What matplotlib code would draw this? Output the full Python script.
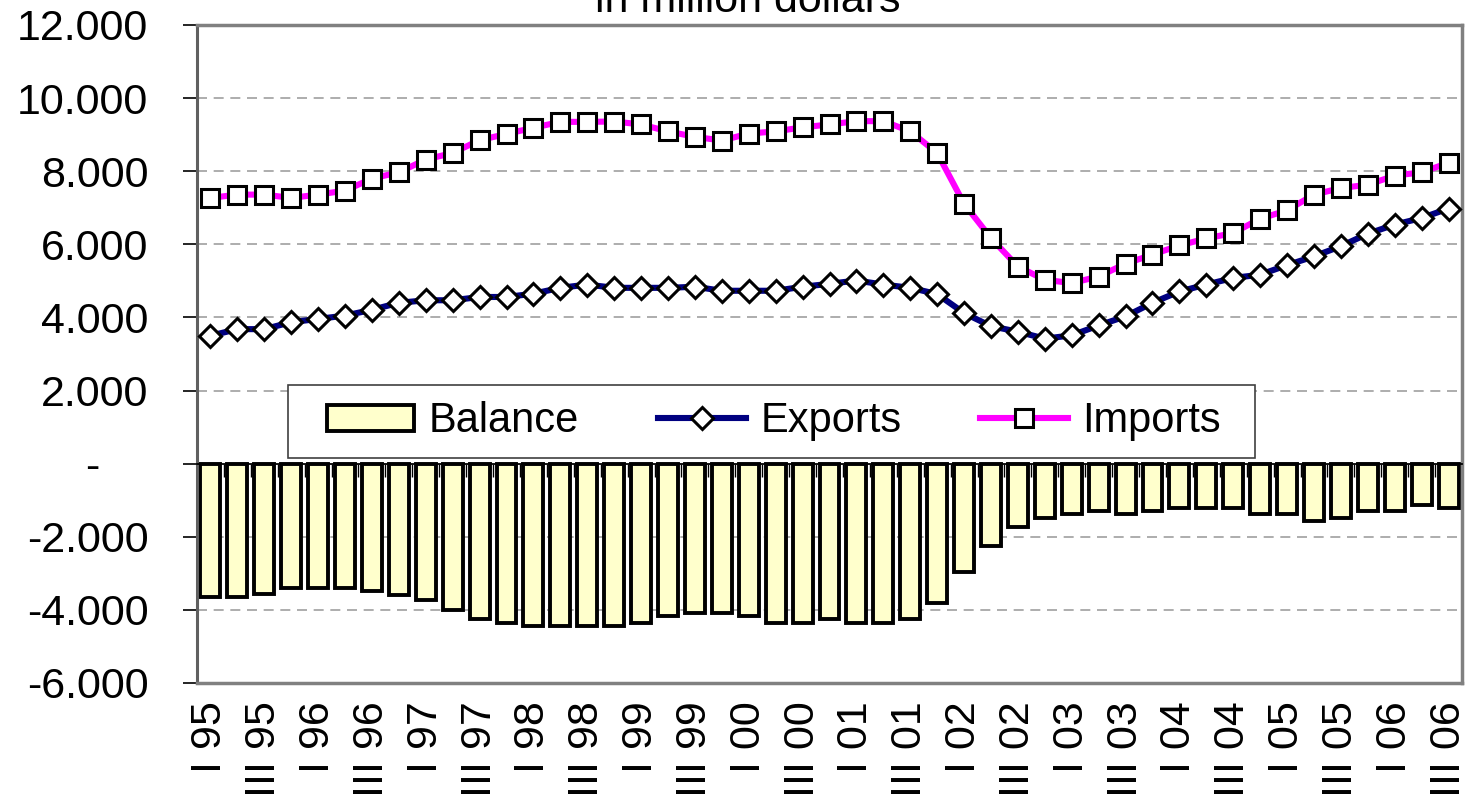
import matplotlib.pyplot as plt
from matplotlib.ticker import FuncFormatter
from matplotlib.patches import Rectangle
import numpy as np

plt.rcParams['font.family'] = ['Liberation Sans', 'DejaVu Sans']

# quarterly trade, I 95 .. III 06, in million dollars
imports = [7270, 7360, 7360, 7270, 7360, 7470, 7800, 7970, 8320, 8500,
           8850, 9020, 9190, 9350, 9350, 9360, 9280, 9090, 8940, 8840,
           9030, 9090, 9200, 9280, 9370, 9370, 9090, 8500, 7110, 6170,
           5390, 5030, 4940, 5120, 5470, 5720, 5970, 6160, 6310, 6700,
           6930, 7360, 7540, 7630, 7880, 7970, 8230]
exports = [3500, 3680, 3680, 3870, 3960, 4050, 4210, 4400, 4470, 4470,
           4560, 4560, 4650, 4810, 4900, 4810, 4810, 4810, 4840, 4730,
           4730, 4730, 4840, 4920, 5010, 4900, 4810, 4640, 4120, 3760,
           3610, 3420, 3510, 3780, 4030, 4400, 4710, 4900, 5080, 5170,
           5430, 5670, 5950, 6290, 6540, 6720, 6980]
balance = [-3650, -3650, -3560, -3390, -3390, -3390, -3480, -3580, -3740, -4010,
           -4260, -4360, -4450, -4450, -4450, -4450, -4360, -4170, -4080, -4080,
           -4170, -4360, -4360, -4260, -4360, -4360, -4260, -3820, -2960, -2260,
           -1740, -1480, -1390, -1300, -1390, -1300, -1220, -1220, -1220, -1390,
           -1390, -1560, -1490, -1300, -1300, -1130, -1220]
tick_labels = ["I 95", "III 95", "I 96", "III 96", "I 97", "III 97",
               "I 98", "III 98", "I 99", "III 99", "I 00", "III 00",
               "I 01", "III 01", "I 02", "III 02", "I 03", "III 03",
               "I 04", "III 04", "I 05", "III 05", "I 06", "III 06"]

x = np.arange(len(balance))
FS = 31

fig = plt.figure(figsize=(14.68, 8.06), dpi=100)
ax = fig.add_axes([197 / 1468, 1 - 683 / 806, 1265 / 1468, 658 / 806])

bars = ax.bar(x, balance, width=0.74, color='#FFFFCC', edgecolor='black',
              linewidth=2.8, label='Balance', zorder=2)
l_exp, = ax.plot(x, exports, color='#000080', lw=4.4, marker='D', ms=11,
                 mfc='white', mec='black', mew=2.2, label='Exports', zorder=4)
l_imp, = ax.plot(x, imports, color='#FF00FF', lw=4.4, marker='s', ms=13,
                 mfc='white', mec='black', mew=2.2, label='Imports', zorder=3)

ax.set_xlim(-0.5, len(balance) - 0.5)
ax.set_ylim(-6000, 12000)
ax.set_yticks(np.arange(-6000, 12001, 2000))


def fmt(v, pos):
    if v == 0:
        return '-    '
    return f'{v:,.0f}'.replace(',', '.')


ax.yaxis.set_major_formatter(FuncFormatter(fmt))
ax.tick_params(axis='y', length=10, width=1.2, color='black', pad=25,
               labelsize=FS)
ax.set_xticks(x[::2])
ax.set_xticklabels(tick_labels, rotation=90, fontsize=FS)
ax.tick_params(axis='x', length=0, pad=13)

# dashed horizontal grid
for y in [10000, 8000, 6000, 4000, 2000, -2000, -4000]:
    ax.axhline(y, color='#A0A0A0', lw=1.2, ls=(0, (6, 4)), zorder=1)

for s in ['top', 'right', 'bottom']:
    ax.spines[s].set_color('#808080')
    ax.spines[s].set_linewidth(2.5)
ax.spines['left'].set_color('#606060')
ax.spines['left'].set_linewidth(2.2)

# category axis crossing at zero, with ticks between categories
sec = ax.secondary_xaxis(6000 / 18000)
sec.set_xticks(np.arange(0.5, len(balance) - 1, 1.0))
sec.set_xticklabels([])
sec.tick_params(axis='x', length=9, width=1, color='black', direction='out')
sec.spines['bottom'].set_color('black')
sec.spines['bottom'].set_linewidth(1.3)
sec.set_zorder(5)

# legend box drawn separately, entries centred inside it
ax.add_patch(Rectangle((0.072, 0.342), 0.764, 0.111, transform=ax.transAxes,
                       facecolor='white', edgecolor='#404040', lw=1.2,
                       zorder=6))
leg = ax.legend([bars, l_exp, l_imp], ['Balance', 'Exports', 'Imports'],
                loc='center', ncol=3, bbox_to_anchor=(0.456, 0.3975),
                borderaxespad=0, fontsize=30, frameon=False,
                handlelength=2.1, handleheight=0.6, handletextpad=0.35,
                borderpad=0.1, columnspacing=1.9)
leg.set_zorder(7)

fig.text(0.5095, 1 - 12 / 806, 'in million dollars', ha='center',
         va='baseline', fontsize=FS)

fig.savefig('out.png', dpi=100)
